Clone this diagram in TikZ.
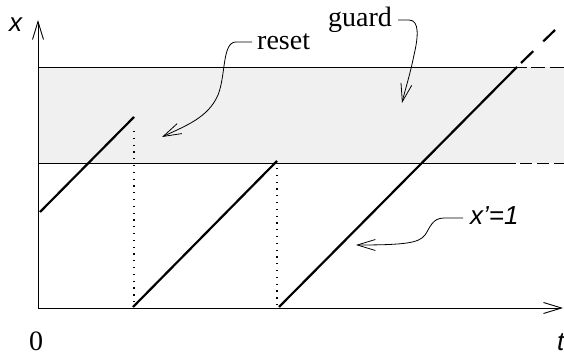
\documentclass[tikz,border=0pt]{standalone}
\usepackage{fontspec}
\setmainfont{Liberation Serif}
\newfontfamily\lblsans{Liberation Sans}
\usetikzlibrary{arrows.meta}
\definecolor{band}{HTML}{F0F0F0}
\tikzset{
 thinln/.style={line width=0.9pt},
 thickln/.style={line width=2.2pt},
 dotln/.style={line width=1.3pt, dash pattern=on 1.3pt off 5.5pt},
 barb/.style={-{Straight Barb[length=18pt,width=11pt]}},
 leader/.style={line width=0.8pt, barb},
 serif/.style={inner sep=0pt, font=\fontsize{28}{30}\selectfont},
 sanslbl/.style={inner sep=0pt, font=\lblsans\itshape\fontsize{26}{28}\selectfont},
}
\begin{document}
\begin{tikzpicture}[x=1pt,y=-1pt]
\useasboundingbox (0,0) rectangle (564,352);
% guard band
\fill[band] (38,67) rectangle (564,163);
\draw[thinln] (38,67) -- (527,67);
\draw[thinln, dash pattern=on 14pt off 5pt] (531,67) -- (564,67);
\draw[thinln] (38,163) -- (516,163);
\draw[thinln, dash pattern=on 12pt off 5pt] (520,163) -- (564,163);
% axes
\coordinate (O) at (38,308);
\coordinate (ytip) at (38,20);
\coordinate (xtip) at (563,308);
\draw[thinln, barb] (O) -- (ytip);
\draw[thinln, barb] (O) -- (xtip);
% trajectories
\draw[thickln] (40,212) -- (134,117);
\draw[thickln] (133,307) -- (277,161);
\draw[thickln] (279,307) -- (517,67);
\draw[thickln, dash pattern=on 17pt off 14pt] (521,63) -- (555,30);
% resets
\draw[dotln] (134,131) -- (134,307);
\draw[dotln] (277,168) -- (277,307);
% labels
\node[serif, anchor=base] (zero) at (36,350) {0};
\node[sanslbl, anchor=base west] (xlab) at (9,32) {x};
\node[sanslbl, anchor=base west] (tlab) at (557,350) {t};
\node[serif, anchor=base west] (reset) at (257,50) {reset};
\node[serif, anchor=base west] (guard) at (328,27) {guard};
\node[sanslbl, anchor=base west] (slope) at (470,225) {x’=1};
% leaders
\coordinate (rtip) at (162,137);
\coordinate (gtip) at (402,103);
\coordinate (stip) at (356,245);
\draw[leader] (252,42) -- (236,42) .. controls (222,42) and (226,75) .. (218,95) .. controls (208,118) and (185,126) .. (rtip);
\draw[leader] (398,20) -- (409,20) .. controls (420,20) and (418,38) .. (414,55) .. controls (410,75) and (405,90) .. (gtip);
\draw[leader] (463,218) -- (444,218) .. controls (432,218) and (430,228) .. (425,235) .. controls (419,243) and (405,245) .. (stip);
\end{tikzpicture}
\end{document}
